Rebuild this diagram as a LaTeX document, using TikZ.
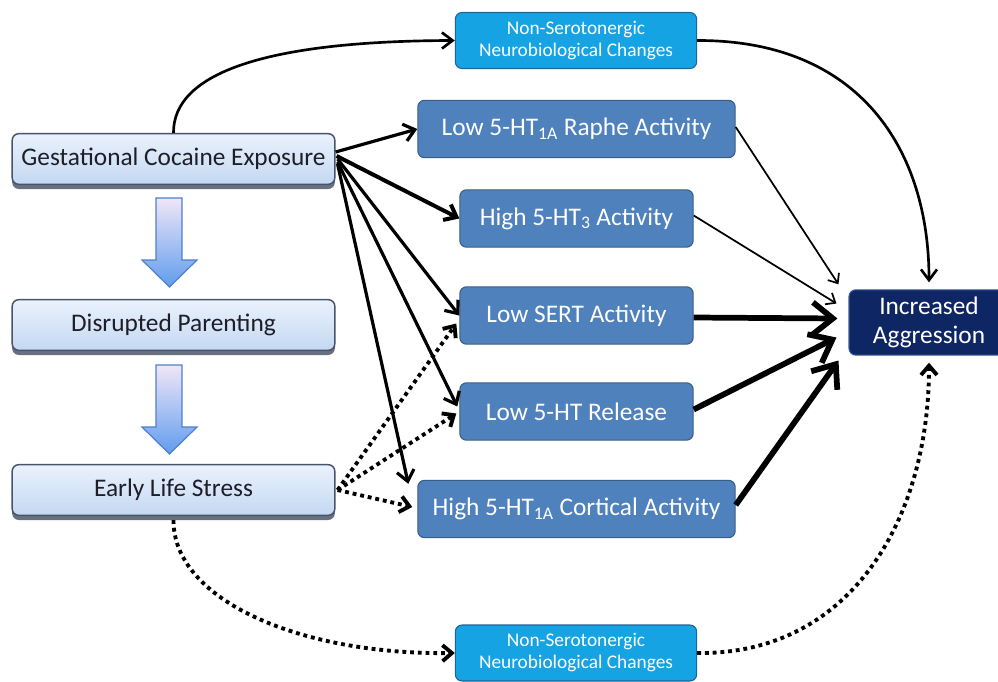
\documentclass[tikz,border=0pt]{standalone}
\usepackage{fontspec}
\setmainfont{Carlito}
\usetikzlibrary{arrows.meta,shadows,calc}
\definecolor{lighttop}{RGB}{234,242,252}
\definecolor{lightbot}{RGB}{196,216,242}
\definecolor{lightborder}{RGB}{72,84,108}
\definecolor{shadowc}{RGB}{105,112,128}
\definecolor{midblue}{RGB}{79,129,189}
\definecolor{midborder}{RGB}{56,93,138}
\definecolor{cyanbox}{RGB}{22,163,228}
\definecolor{cyanborder}{RGB}{30,100,150}
\definecolor{navybox}{RGB}{14,38,100}
\definecolor{navyborder}{RGB}{60,90,150}
\definecolor{arrtop}{RGB}{240,230,247}
\definecolor{arrbot}{RGB}{96,156,238}
\definecolor{arrborder}{RGB}{78,128,205}
\definecolor{textdark}{RGB}{30,30,40}
\begin{document}
\begin{tikzpicture}[x=0.75pt,y=-0.75pt,
  mainfont/.style={font=\fontsize{19}{21.5}\selectfont},
  lightbox/.style={mainfont, rounded corners=5pt, draw=lightborder, line width=1.1pt,
    top color=lighttop, bottom color=lightbot, text=textdark,
    minimum width=242pt, minimum height=38pt, inner sep=0pt,
    drop shadow={shadow xshift=0pt, shadow yshift=-3.5pt, fill=shadowc, opacity=1}},
  bluebox/.style={mainfont, rounded corners=5pt, fill=midblue, draw=midborder, line width=0.8pt,
    text=white, minimum height=43pt, inner sep=0pt},
  nsbox/.style={font=\fontsize{14.5}{16.5}\selectfont, align=center, rounded corners=5pt,
    fill=cyanbox, draw=cyanborder, line width=0.8pt, text=white,
    minimum width=181pt, minimum height=42pt, inner sep=0pt},
  iabox/.style={mainfont, align=center, rounded corners=5pt, fill=navybox, draw=navyborder,
    line width=0.8pt, text=white, minimum width=120pt, minimum height=49pt, inner sep=0pt},
  blockarrow/.style={top color=arrtop, bottom color=arrbot, draw=arrborder, line width=0.9pt, line join=miter},
  garrow/.style={line width=2.4pt, -{Straight Barb[length=8pt,width=13pt]}},
  thinarrow/.style={line width=1.3pt, -{Straight Barb[length=6pt,width=10pt]}},
  thickarrow/.style={line width=4.3pt, -{Straight Barb[length=15pt,width=24pt]}},
  curvearrow/.style={line width=2pt, -{Straight Barb[length=8pt,width=12pt]}},
  dotarrow/.style={line width=2.9pt, dash pattern=on 2.9pt off 2.9pt, -{Straight Barb[length=7pt,width=12pt]}}
]
\useasboundingbox (0,0) rectangle (998,681);

% left column
\node[lightbox] (gce) at (173.5,159) {Gestational Cocaine Exposure};
\node[lightbox] (dp) at (173.5,325) {Disrupted Parenting};
\node[lightbox] (els) at (173.5,490) {Early Life Stress};

% block arrows
\path[blockarrow] (156,198) -- (182,198) -- (182,260) -- (197,260) -- (169.5,287) -- (142,260) -- (156,260) -- cycle;
\path[blockarrow] (156,365) -- (182,365) -- (182,427) -- (197,427) -- (169.5,454) -- (142,427) -- (156,427) -- cycle;

% middle column
\node[nsbox] (ns1) at (576,40.5) {Non-Serotonergic\\Neurobiological Changes};
\node[bluebox, minimum width=238pt] (raphe) at (576.5,129) {Low 5-HT\textsubscript{1A} Raphe Activity};
\node[bluebox, minimum width=175pt] (b3) at (576.5,218.5) {High 5-HT\textsubscript{3} Activity};
\node[bluebox, minimum width=175pt] (sert) at (576.5,315.5) {Low SERT Activity};
\node[bluebox, minimum width=175pt] (rel) at (576.5,411.5) {Low 5-HT Release};
\node[bluebox, minimum width=238pt] (cort) at (576.5,509) {High 5-HT\textsubscript{1A} Cortical Activity};
\node[nsbox] (ns2) at (576,653) {Non-Serotonergic\\Neurobiological Changes};

% right
\node[iabox] (ia) at (929,322.5) {Increased\\Aggression};

% coordinates
\coordinate (iaN) at ($(ia.north)+(0,-7)$);
\coordinate (iaS) at ($(ia.south)+(0,7)$);
\coordinate (t1) at ($(ia.north west)+(-10,-5)$);
\coordinate (t2) at ($(ia.west)+(-12,-19)$);
\coordinate (t3) at ($(ia.west)+(-11,-4)$);
\coordinate (t4) at ($(ia.west)+(-12,15)$);
\coordinate (t5) at ($(ia.west)+(-10,38)$);

% curved non-serotonergic paths
\draw[curvearrow] (gce.north) .. controls (173,75) and (260,41) .. (ns1.west);
\draw[curvearrow] (ns1.east) .. controls (860,40) and (929,150) .. (iaN);
\draw[dotarrow] ($(els.south)+(0,4)$) .. controls (173,600) and (300,655) .. (ns2.west);
\draw[dotarrow] (ns2.east) .. controls (850,655) and (929,520) .. (iaS);

% gestational cocaine exposure arrows
\draw[garrow] ($(gce.east)+(0,-7)$) -- (raphe.west);
\draw[garrow, line width=3pt] ($(gce.east)+(1,-3)$) -- (b3.west);
\draw[garrow] ($(gce.east)+(2,0)$) -- (sert.west);
\draw[garrow] ($(gce.east)+(2,3)$) -- ($(rel.west)+(-2,-5)$);
\draw[garrow] ($(gce.east)+(2,5)$) -- ($(cort.north west)+(-9,4)$);

% early life stress arrows
\draw[dotarrow] ($(els.east)+(2,0)$) -- ($(sert.west)+(-3,8)$);
\draw[dotarrow] ($(els.east)+(2,0)$) -- ($(rel.west)+(-3,2)$);
\draw[dotarrow] ($(els.east)+(2,0)$) -- ($(cort.west)+(-5,-2)$);

% to increased aggression
\draw[thinarrow] ($(raphe.east)+(0,-2)$) -- (t1);
\draw[thinarrow] ($(b3.east)+(0,-3)$) -- (t2);
\draw[thickarrow] ($(sert.east)+(0,2)$) -- (t3);
\draw[thickarrow] ($(rel.east)+(0,-2)$) -- (t4);
\draw[thickarrow] ($(cort.east)+(0,-4)$) -- (t5);
\end{tikzpicture}
\end{document}
